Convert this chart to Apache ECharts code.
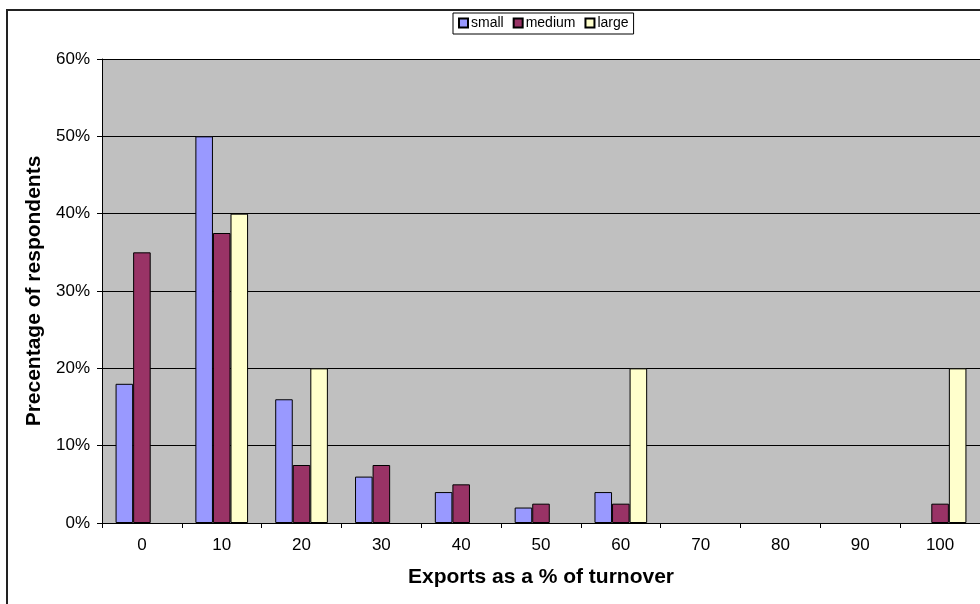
<!DOCTYPE html>
<html>
<head>
<meta charset="utf-8">
<script src="https://cdn.jsdelivr.net/npm/echarts@6/dist/echarts.min.js"></script>
<style>
	html, body { margin: 0; padding: 0; background: #fff; }
	#chart { width: 980px; height: 604px; }
</style>
</head>
<body>
<div id="chart"></div>
<script>
	"use strict";

	// ______________ DATA
	var categories = ['0', '10', '20', '30', '40', '50', '60', '70', '80', '90', '100'];
	var small = [18, 50, 16, 6, 4, 2, 4, 0, 0, 0, 0];
	var medium = [35, 37.5, 7.5, 7.5, 5, 2.5, 2.5, 0, 0, 0, 2.5];
	var large = [0, 40, 20, 0, 0, 0, 20, 0, 0, 0, 20];
	var seriesNames = ['small', 'medium', 'large'];
	var seriesColors = ['#9999ff', '#993366', '#ffffcc'];

	var FONT = '"Liberation Sans", Arial, sans-serif';

	// zero bars are not drawn in the original
	function noZero(arr) {
		return arr.map(function(v) { return v === 0 ? '-' : v; });
	}

	var chart = echarts.init(document.getElementById('chart'));

	chart.setOption({
		animation: false,
		textStyle: { fontFamily: FONT },
		graphic: [{
			type: 'rect',
			shape: { x: 7, y: 10, width: 1100, height: 700 },
			style: { fill: 'none', stroke: '#222', lineWidth: 2 },
			z: -1
		}],
		legend: {
			data: seriesNames,
			left: 453,
			top: 13,
			orient: 'horizontal',
			itemWidth: 9,
			itemHeight: 9,
			itemGap: 9,
			padding: [3, 5, 4, 5],
			borderColor: '#000',
			borderWidth: 1,
			icon: 'rect',
			textStyle: { fontSize: 14, color: '#000', fontFamily: FONT, padding: [0, 0, 0, -2] }
		},
		grid: {
			left: 102,
			right: -2,
			top: 59,
			bottom: 81,
			show: true,
			backgroundColor: '#c0c0c0',
			borderWidth: 0
		},
		xAxis: {
			type: 'category',
			data: categories,
			name: 'Exports as a % of turnover',
			nameLocation: 'middle',
			nameGap: 44,
			nameTextStyle: { fontSize: 21, fontWeight: 'bold', color: '#000', fontFamily: FONT },
			axisLine: { lineStyle: { color: '#000', width: 1 } },
			axisTick: { show: true, length: 5, lineStyle: { color: '#000' } },
			axisLabel: { fontSize: 17, color: '#000', margin: 14, fontFamily: FONT }
		},
		yAxis: {
			type: 'value',
			min: 0,
			max: 60,
			interval: 10,
			name: 'Precentage of respondents',
			nameLocation: 'middle',
			nameGap: 54,
			nameTextStyle: { fontSize: 21, fontWeight: 'bold', color: '#000', fontFamily: FONT },
			axisLine: { show: true, lineStyle: { color: '#000', width: 1 } },
			axisTick: { show: true, length: 5, lineStyle: { color: '#000' } },
			axisLabel: { fontSize: 17, color: '#000', margin: 12, formatter: '{value}%', fontFamily: FONT },
			splitLine: { lineStyle: { color: '#000', width: 1 } }
		},
		series: [small, medium, large].map(function(values, i) {
			return {
				name: seriesNames[i],
				type: 'bar',
				data: noZero(values),
				barGap: '0%',
				barCategoryGap: '34%',
				itemStyle: {
					color: seriesColors[i],
					borderColor: '#000',
					borderWidth: 1
				}
			};
		})
	});
</script>
</body>
</html>
